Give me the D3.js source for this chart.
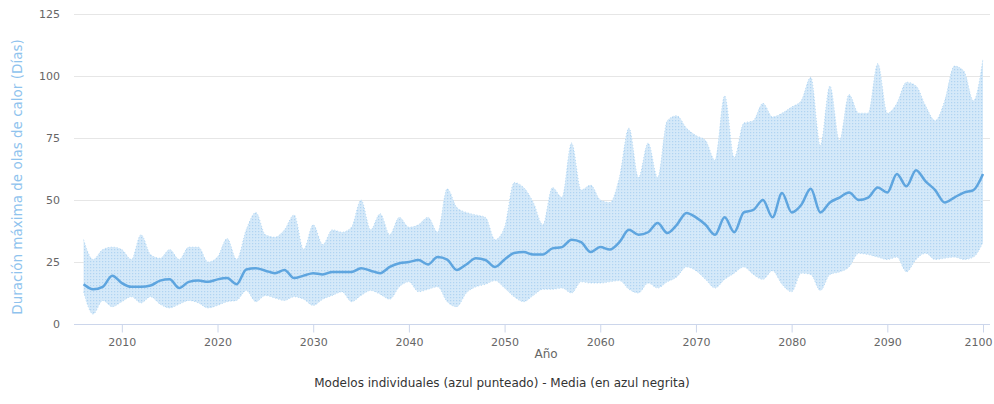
<!DOCTYPE html>
<html>
<head>
<meta charset="utf-8">
<script src="https://cdn.jsdelivr.net/npm/d3@7"></script>
<style>
  body { margin: 0; background: #fff; }
  text { font-family: "DejaVu Sans", "Liberation Sans", sans-serif; }
</style>
</head>
<body>
<div id="chart"></div>
<script>
// años 2006-2100
const years = d3.range(2006, 2101);

// Máximo de los modelos (borde superior)
const maxVals = [34, 26, 30, 31, 30, 26, 36, 28, 26.5, 30,
  26, 31, 31, 25, 27, 34.5, 26, 38, 45, 36,
  35, 38, 44, 30, 40, 32, 38, 37, 39, 50,
  38, 44.5, 36, 43, 39, 40, 43, 37, 54.5, 47,
  45, 44, 43, 34, 39, 57, 55, 49, 40, 55,
  51, 73, 54, 56, 50, 49, 59, 79, 59, 73,
  59, 82, 84, 79, 76, 74, 66, 92, 67, 81,
  82, 89, 83.5, 85, 87.5, 90, 99.5, 72, 96, 74,
  92.5, 85, 85, 105, 85, 89, 97.5, 96, 88, 82,
  90, 104, 102, 90, 107];

// Mínimo de los modelos (borde inferior)
const minVals = [13, 4, 9.5, 7, 9, 11, 8.5, 11, 8, 6.5,
  8, 9.5, 8.5, 6.5, 7.5, 9, 9.5, 13.5, 9, 11.5,
  10.5, 9.5, 11, 10, 7.5, 10, 11.5, 13, 9, 11.5,
  13.5, 12, 10, 15, 17, 13, 14, 15, 9, 7,
  12.5, 15, 16, 17.5, 14.5, 11, 9, 11.5, 14, 14,
  14.5, 12.5, 17, 16.5, 16.5, 17, 17.5, 14, 12.5, 16.5,
  14.5, 17, 19, 23, 21.5, 18, 14.5, 18, 20.5, 23,
  20, 18, 21.5, 16, 13, 20.5, 20, 13.5, 20, 21,
  23, 28.5, 28, 27, 26, 27, 21, 26, 28.5, 26,
  26.5, 27, 26, 27, 33];

// Media (azul negrita)
const meanVals = [16, 14, 15, 19.5, 16.5, 15, 15, 15.5, 17.5, 18,
  14.5, 17, 17.5, 17, 18, 18.5, 16, 22, 22.5, 21.5,
  20.5, 21.8, 18.5, 19.5, 20.5, 20, 21, 21, 21, 22.5,
  21.5, 20.5, 23, 24.5, 25, 25.8, 24, 27, 26, 21.8,
  24, 26.5, 25.8, 23, 26, 28.6, 29, 28, 28, 30.5,
  31, 34, 33, 29, 31, 30, 33, 38, 36, 37,
  40.7, 36.7, 40, 44.8, 43, 40, 36, 43, 37, 45,
  46, 50, 43, 52.8, 45, 48, 54.5, 45, 49, 51,
  53, 50, 51, 55, 53, 60.5, 55.5, 62, 57.5, 54,
  49, 51, 53, 54, 60.5];

const yTicks = [0, 25, 50, 75, 100, 125];
const xTicks = d3.range(2010, 2101, 10);

const width = 994, height = 404;
const margin = {top: 14, right: 11, bottom: 80, left: 74};

const svg = d3.select("#chart")
    .append("svg")
    .attr("width", width)
    .attr("height", height);

// textura punteada de los modelos individuales
const defs = svg.append("defs");
const pat = defs.append("pattern")
    .attr("id", "dots")
    .attr("patternUnits", "userSpaceOnUse")
    .attr("width", 3)
    .attr("height", 3);
pat.append("rect").attr("width", 3).attr("height", 3).attr("fill", "#d5e9f9");
pat.append("rect").attr("width", 1.2).attr("height", 1.2).attr("fill", "#b0d4f2");

let x = d3.scaleLinear()
    .domain([2005, 2100])
    .range([margin.left, width - margin.right]);

let y = d3.scaleLinear()
    .domain([0, 125])
    .range([height - margin.bottom, margin.top]);

// grid
svg.append("g")
    .selectAll("line")
    .data(yTicks.slice(1))
    .join("line")
    .attr("x1", margin.left)
    .attr("x2", width - 4)
    .attr("y1", d => y(d) + 0.5)
    .attr("y2", d => y(d) + 0.5)
    .attr("stroke", "#e6e6e6");

const data = years.map((yr, i) => ({year: yr, lo: minVals[i], hi: maxVals[i], mean: meanVals[i]}));

// rango de modelos
svg.append("path")
    .datum(data)
    .attr("fill", "url(#dots)")
    .attr("d", d3.area()
        .curve(d3.curveMonotoneX)
        .x(d => x(d.year))
        .y0(d => y(d.lo))
        .y1(d => y(d.hi)));

// bordes punteados
for (let key of ["hi", "lo"]) {
    svg.append("path")
        .datum(data)
        .attr("fill", "none")
        .attr("stroke", "#b9dbf5")
        .attr("stroke-width", 1)
        .attr("stroke-dasharray", "1,2")
        .attr("d", d3.line()
            .curve(d3.curveMonotoneX)
            .x(d => x(d.year))
            .y(d => y(d[key])));
}

// media
svg.append("path")
    .datum(data)
    .attr("fill", "none")
    .attr("stroke", "#5ea5df")
    .attr("stroke-width", 2.5)
    .attr("d", d3.line()
        .curve(d3.curveMonotoneX)
        .x(d => x(d.year))
        .y(d => y(d.mean)));

// eje x
const xAxis = svg.append("g")
    .attr("transform", `translate(0,${y(0) + 0.5})`)
    .call(d3.axisBottom(x).tickValues(xTicks).tickFormat(d3.format("d")).tickSize(8).tickPadding(6));
xAxis.select(".domain").attr("stroke", "#ccd6eb").attr("d", `M${margin.left},0H${width - 4}`);
xAxis.selectAll(".tick line").attr("stroke", "#ccd6eb");
xAxis.selectAll(".tick text").attr("fill", "#666").attr("font-size", 11);
// la última etiqueta se ajusta al borde
xAxis.selectAll(".tick text").filter(d => d === 2100)
    .attr("text-anchor", "end")
    .attr("dx", width - 2 - x(2100));

// eje y
const yAxis = svg.append("g")
    .attr("transform", `translate(${margin.left - 14},0)`)
    .call(d3.axisLeft(y).tickValues(yTicks).tickSize(0).tickPadding(0));
yAxis.select(".domain").remove();
yAxis.selectAll(".tick text").attr("fill", "#666").attr("font-size", 11);

svg.append("text")
    .attr("transform", `translate(22,${(y(0) + y(125)) / 2 + 8}) rotate(-90)`)
    .attr("text-anchor", "middle")
    .attr("font-size", 13.5)
    .attr("fill", "#8fc3ee")
    .text("Duración máxima de olas de calor (Días)");

svg.append("text")
    .attr("x", 546)
    .attr("y", 358)
    .attr("text-anchor", "middle")
    .attr("font-size", 12)
    .attr("fill", "#666")
    .text("Año");

svg.append("text")
    .attr("x", 502)
    .attr("y", 387)
    .attr("text-anchor", "middle")
    .attr("font-size", 12)
    .attr("fill", "#333")
    .text("Modelos individuales (azul punteado) - Media (en azul negrita)");
</script>
</body>
</html>
